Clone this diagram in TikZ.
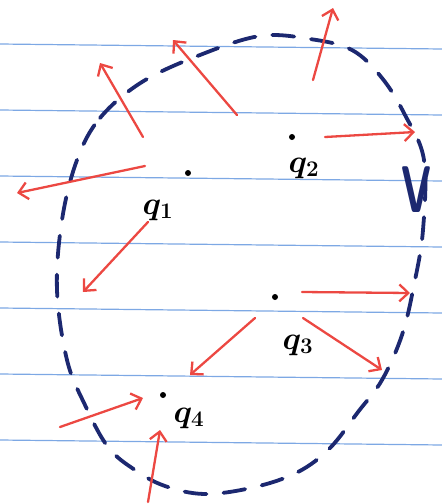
\documentclass[tikz,border=0pt]{standalone}
\usepackage{tikz}
\usetikzlibrary{arrows.meta}
\definecolor{penred}{RGB}{236,72,66}
\definecolor{pennavy}{RGB}{28,40,112}
\definecolor{ruleblue}{RGB}{125,168,228}

\begin{document}
\begin{tikzpicture}[x=1pt,y=-1pt,
  dot/.style={circle,fill=black,inner sep=0pt,minimum size=6pt},
  lab/.style={font=\boldmath\huge,scale=1.55},
  vec/.style={penred,line width=2.3pt,line cap=round,-{Straight Barb[length=9pt,width=17pt]}},
  rule/.style={ruleblue,line width=1.2pt},
  bound/.style={pennavy,line width=3.8pt,line cap=round,dash pattern=on 22pt off 17pt}]
  \useasboundingbox (0,0) rectangle (442,504);
  % ruled paper
  \foreach \y in {44,110,176,242,308,374,440}
    \draw[rule] (0,\y) -- (442,\y+5);
  % boundary of V
  \draw[bound] plot[smooth cycle,tension=0.6] coordinates {
    (77,160) (100,118) (142,82) (200,55) (260,36) (310,39) (352,50)
    (382,78) (405,115) (424,160) (423,230) (414,285) (402,335)
    (382,380) (358,412) (330,448) (298,472) (255,487) (205,494)
    (165,486) (135,470) (108,447) (85,405) (67,360) (57,290) (62,220)};
  \node[font=\sffamily\bfseries\fontsize{66}{66}\selectfont,pennavy,xscale=0.62] (V) at (416,190) {V};
  % charges
  \node[dot] (q1) at (188,173) {};
  \node[dot] (q2) at (292,137) {};
  \node[dot] (q3) at (275,297) {};
  \node[dot] (q4) at (163,395) {};
  \node[lab] (l1) at (158,210) {$q_1$};
  \node[lab] (l2) at (304,168) {$q_2$};
  \node[lab] (l3) at (298,345) {$q_3$};
  \node[lab] (l4) at (189,418) {$q_4$};
  % field vectors
  \foreach \ax/\ay/\bx/\by in {143/137/100/63, 237/115/173/40, 313/80/333/8,
      325/137/415/132, 145/166/17/193, 148/222/83/292, 302/292/410/293,
      255/318/190/375, 303/318/382/370, 60/427/143/398, 148/502/160/430}
    \draw[vec] (\ax,\ay) -- (\bx,\by);
\end{tikzpicture}
\end{document}
